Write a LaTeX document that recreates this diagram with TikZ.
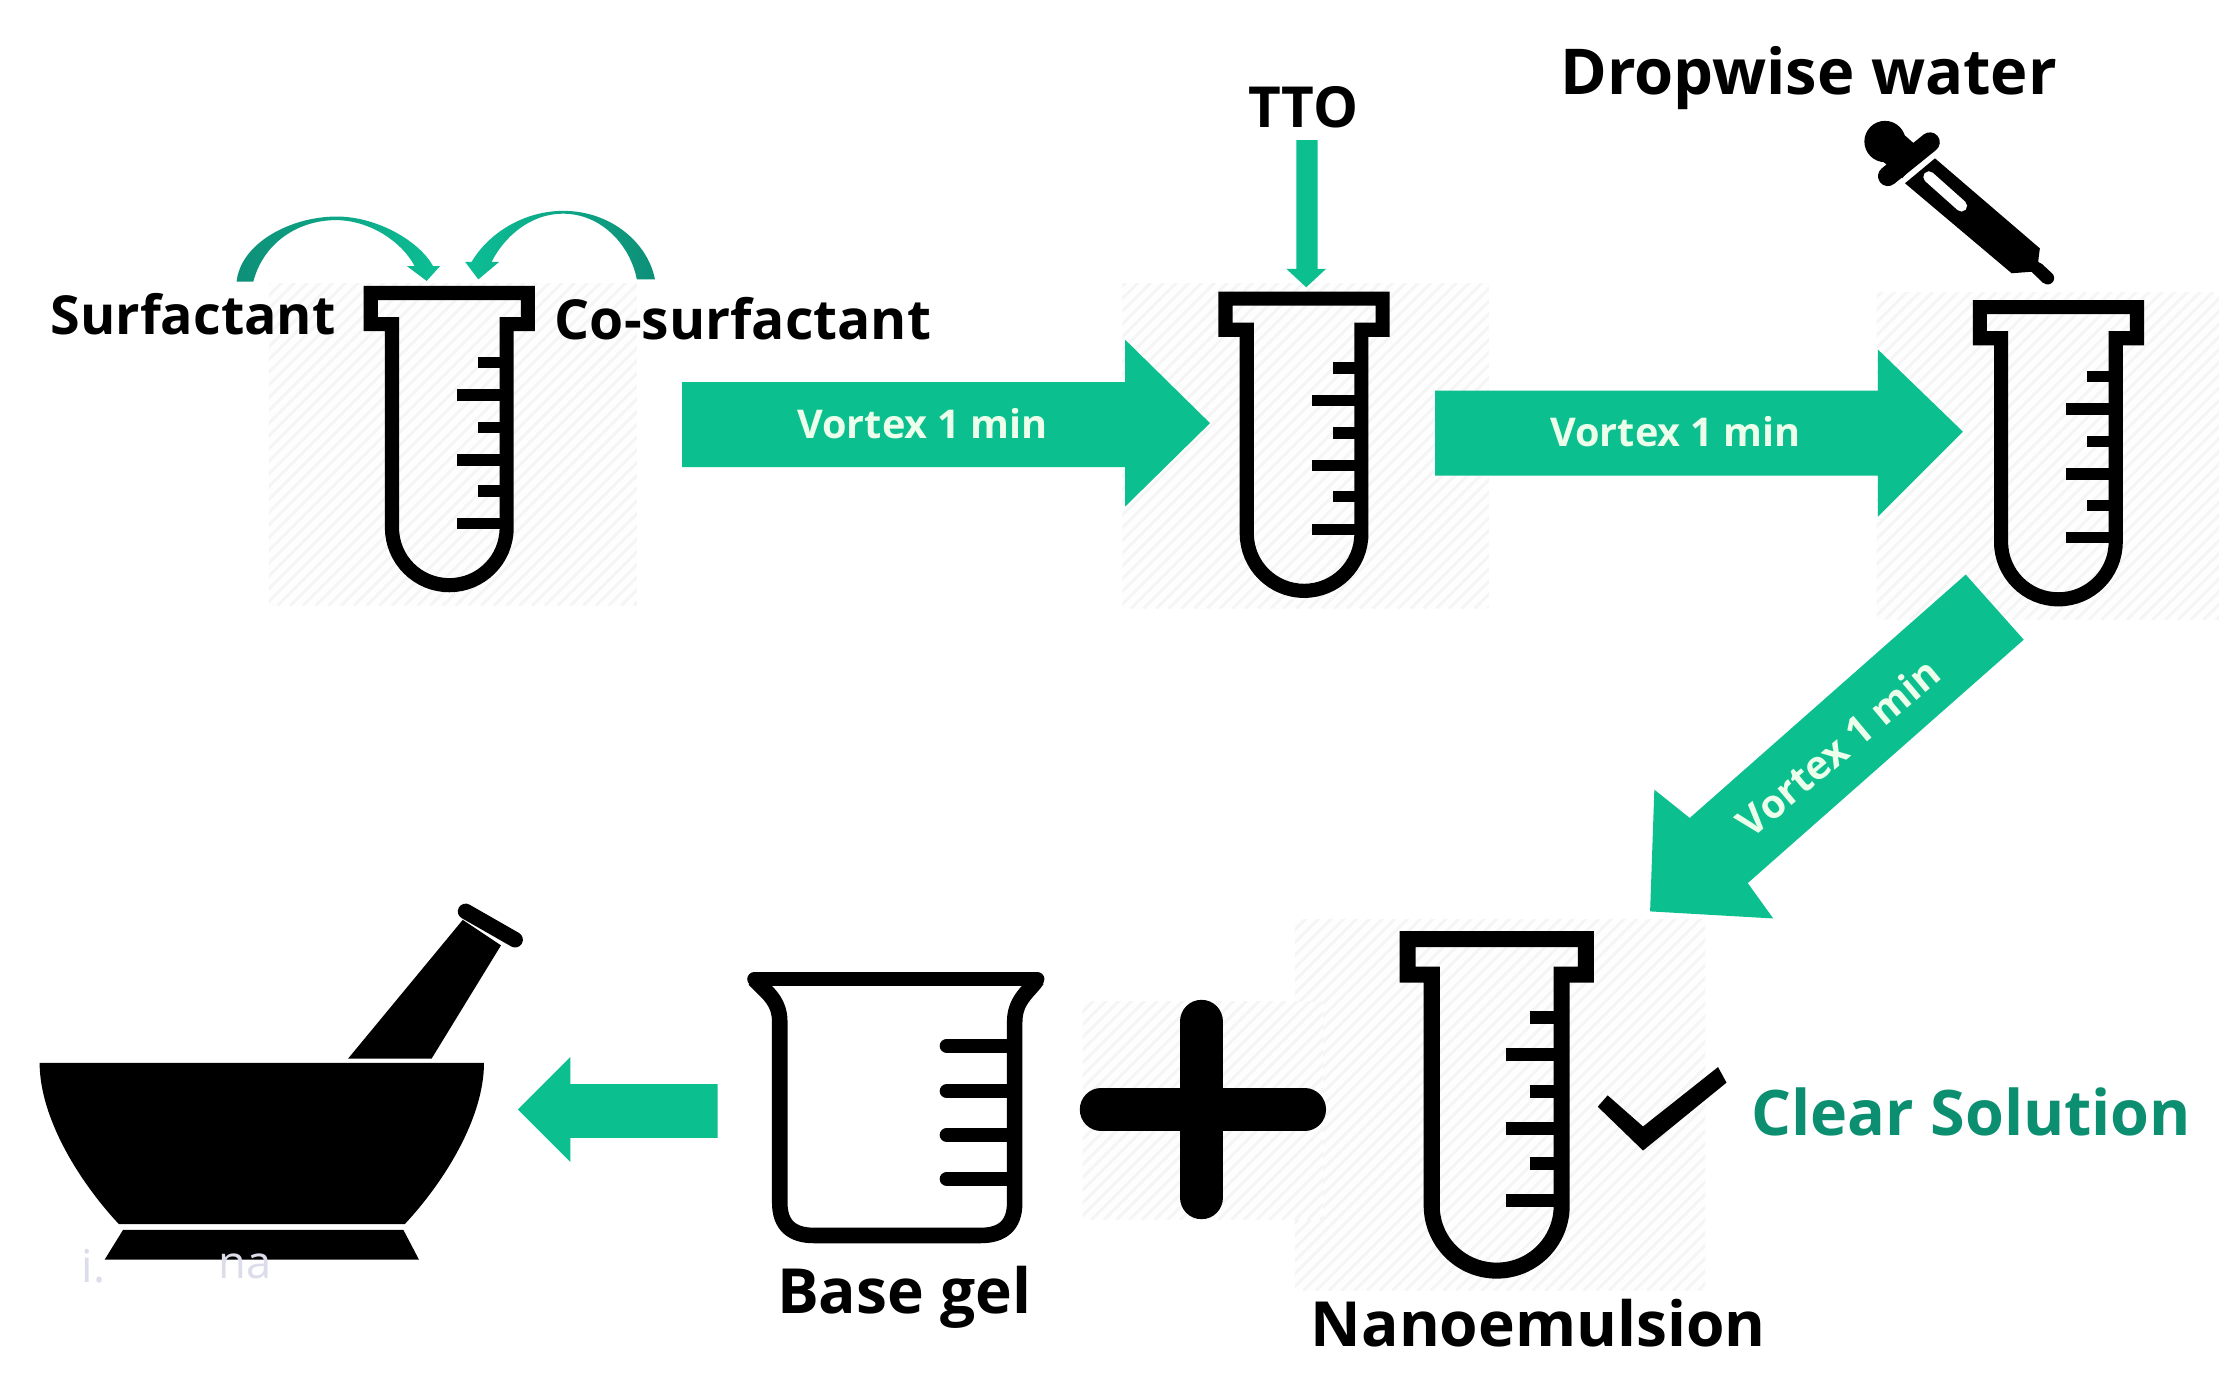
\documentclass[tikz,border=0pt]{standalone}
\usepackage{fontspec}
\setmainfont{Open Sans}
\definecolor{arrowgreen}{HTML}{0CBF8E}
\definecolor{deepgreen}{HTML}{0B8F70}
\definecolor{curveA}{HTML}{0E8F78}
\definecolor{curveB}{HTML}{0CBF95}
\definecolor{hatchbg}{HTML}{FEFEFE}
\definecolor{hatchline}{HTML}{F5F5F5}
\newcommand{\hatchbox}[4]{%
  \begin{scope}
    \clip (#1,#2) rectangle (#3,#4);
    \fill[hatchbg] (#1,#2) rectangle (#3,#4);
    \foreach \k in {0,9,...,700}{
      \draw[hatchline,line width=2pt] (#1+\k-300,#4) -- ++(300,-300);
    }
  \end{scope}}
\newcommand{\testtube}[3]{%
  \begin{scope}[shift={(#1,#2)},scale=#3]
    \draw[line width=#3*10pt,miter limit=10]
      (5,5) -- (116,5) -- (116,27) -- (101,27) -- (101,171)
      arc[start angle=0,end angle=180,radius=40.5]
      -- (20,27) -- (5,27) -- cycle;
    \foreach \yy/\xx in {54/81,77/66,100/81,123/66,145/81,168/66}{
      \draw[line width=#3*8pt] (\xx,\yy) -- (97,\yy);
    }
  \end{scope}}
\tikzset{
  lab/.style={inner sep=0pt,text=black,font=\fontsize{38}{44}\selectfont\bfseries},
  vort/.style={inner sep=0pt,text=white!92!green,font=\fontsize{28}{32}\selectfont\bfseries},
  blockarrow/.style={fill=arrowgreen,draw=none}
}
\begin{document}
\begin{tikzpicture}[x=1pt,y=-1pt]
\useasboundingbox (0,0) rectangle (1568,971.6);
\fill[white] (0,0) rectangle (1568,971.6);
% hatched squares
\hatchbox{190}{200}{450}{428}
\hatchbox{793}{200}{1052}{430}
\hatchbox{1326}{207}{1568}{438}
\hatchbox{915}{650}{1205}{912}
\hatchbox{765}{708}{935}{862}
% test tubes
\testtube{257}{202}{1}
\testtube{861}{206}{1}
\testtube{1394}{212}{1}
\testtube{989}{658}{1.134}
% block arrows
\fill[blockarrow] (482,270) -- (795,270) -- (795,240) -- (855,299) -- (795,358) -- (795,330) -- (482,330) -- cycle;
\fill[blockarrow] (1014,276) -- (1327,276) -- (1327,247) -- (1387,305) -- (1327,365) -- (1327,336) -- (1014,336) -- cycle;
\fill[blockarrow] (1389,406) -- (1430,452) -- (1235,624) -- (1253,649) -- (1166,644) -- (1169,558) -- (1194,578) -- cycle;
\fill[blockarrow] (507,766) -- (403,766) -- (403,747) -- (366,784) -- (403,821) -- (403,804) -- (507,804) -- cycle;
\fill[blockarrow] (916,99) -- (931,99) -- (931,190) -- (937,190) -- (923,203) -- (909,190) -- (916,190) -- cycle;
% curved arrows
\shade[left color=curveA,right color=curveB]
  (167.2,199) .. controls (170,172) and (205,153) .. (238,153)
  .. controls (266,153) and (296,170) .. (306,188)
  -- (311,188) -- (301.5,198.5) -- (287.5,188) -- (293,188)
  .. controls (284,171) and (262,156) .. (238,155.5)
  .. controls (210,155.5) and (186,172) .. (179,199) -- cycle;
\shade[right color=curveA,left color=curveB]
  (462.8,197.4) .. controls (458,172) and (432,149) .. (398,149)
  .. controls (370,149) and (345,165) .. (333.3,185)
  -- (328.6,185) -- (338,197.4) -- (352.8,185) -- (347.4,185)
  .. controls (356,168) and (374,151) .. (398,151)
  .. controls (424,151) and (445,172) .. (450,197.4) -- cycle;
% dropper
\fill (1332,100) circle[radius=14.6];
\draw[line width=24pt] (1335,102) -- (1352,117);
\draw[line width=14pt,line cap=round] (1334,124.5) -- (1363.7,100.5);
\fill (1367.3,111.9) -- (1441.4,175.5) -- (1440.2,184.9) -- (1450.9,194.3) -- (1443.8,200) -- (1435.6,192) -- (1421.5,193.1) -- (1346.1,129.5) -- cycle;
\draw[line width=9pt,line cap=round] (1440,190) -- (1447,196.5);
\draw[white,line width=8pt,line cap=round] (1363,125) -- (1386,145.5);
% mortar
\fill (28,751) -- (342,751) .. controls (342,790) and (314,835) .. (286,865) -- (84,865) .. controls (56,835) and (28,790) .. (28,751) -- cycle;
\fill (87,869) -- (285,869) -- (296,890) -- (74,890) -- cycle;
\fill (246,748) -- (305,748) -- (354,668) -- (327,650) -- cycle;
\draw[line width=11pt,line cap=round] (329,644) -- (364,664);
% faint text
\node[inner sep=0pt,text=blue!25!gray!22,font=\fontsize{32}{38}\selectfont] (faintA) at (66,895) {i.};
\node[inner sep=0pt,text=blue!25!gray!22,font=\fontsize{32}{38}\selectfont] (faintB) at (173,895) {na};
% beaker
\draw[line width=10pt,line cap=round] (533,692) -- (733,692);
\draw[line width=11pt,line join=round]
  (533,692) .. controls (540,700) and (551,706) .. (551,722) -- (551,850)
  .. controls (551,866) and (560,873) .. (575,873) -- (693,873)
  .. controls (708,873) and (717,866) .. (717,850) -- (717,722)
  .. controls (717,706) and (728,700) .. (733,692);
\foreach \yy in {739,771,802,833}{
  \draw[line width=10pt,line cap=round] (669,\yy) -- (712,\yy);
}
% plus
\draw[line width=31pt,line cap=round] (849,722) -- (849,846);
\draw[line width=30pt,line cap=round] (778,784) -- (922,784);
% check mark
\fill (1129,782) -- (1136,774) -- (1161,796) -- (1214,754) -- (1220,765) -- (1161,813) -- cycle;
% labels
\node[lab] (surf) at (136.5,222) {Surfactant};
\node[lab,font=\fontsize{39}{45}\selectfont\bfseries] (cosurf) at (525,225) {Co-surfactant};
\node[lab,font=\fontsize{40}{46}\selectfont\bfseries] (tto) at (921,76) {TTO};
\node[lab,font=\fontsize{44.7}{52}\selectfont\bfseries] (drop) at (1278,55) {Dropwise water};
\node[lab,font=\fontsize{44}{50}\selectfont\bfseries] (base) at (639,917) {Base gel};
\node[lab,font=\fontsize{44}{50}\selectfont\bfseries] (nano) at (1087,935) {Nanoemulsion};
\node[lab,text=deepgreen,font=\fontsize{44.4}{51}\selectfont\bfseries] (clear) at (1393,786) {Clear Solution};
\node[vort] (v1) at (652,299) {Vortex 1 min};
\node[vort] (v2) at (1184,305) {Vortex 1 min};
\node[vort,rotate=40] (v3) at (1299,528) {Vortex 1 min};
\end{tikzpicture}
\end{document}
